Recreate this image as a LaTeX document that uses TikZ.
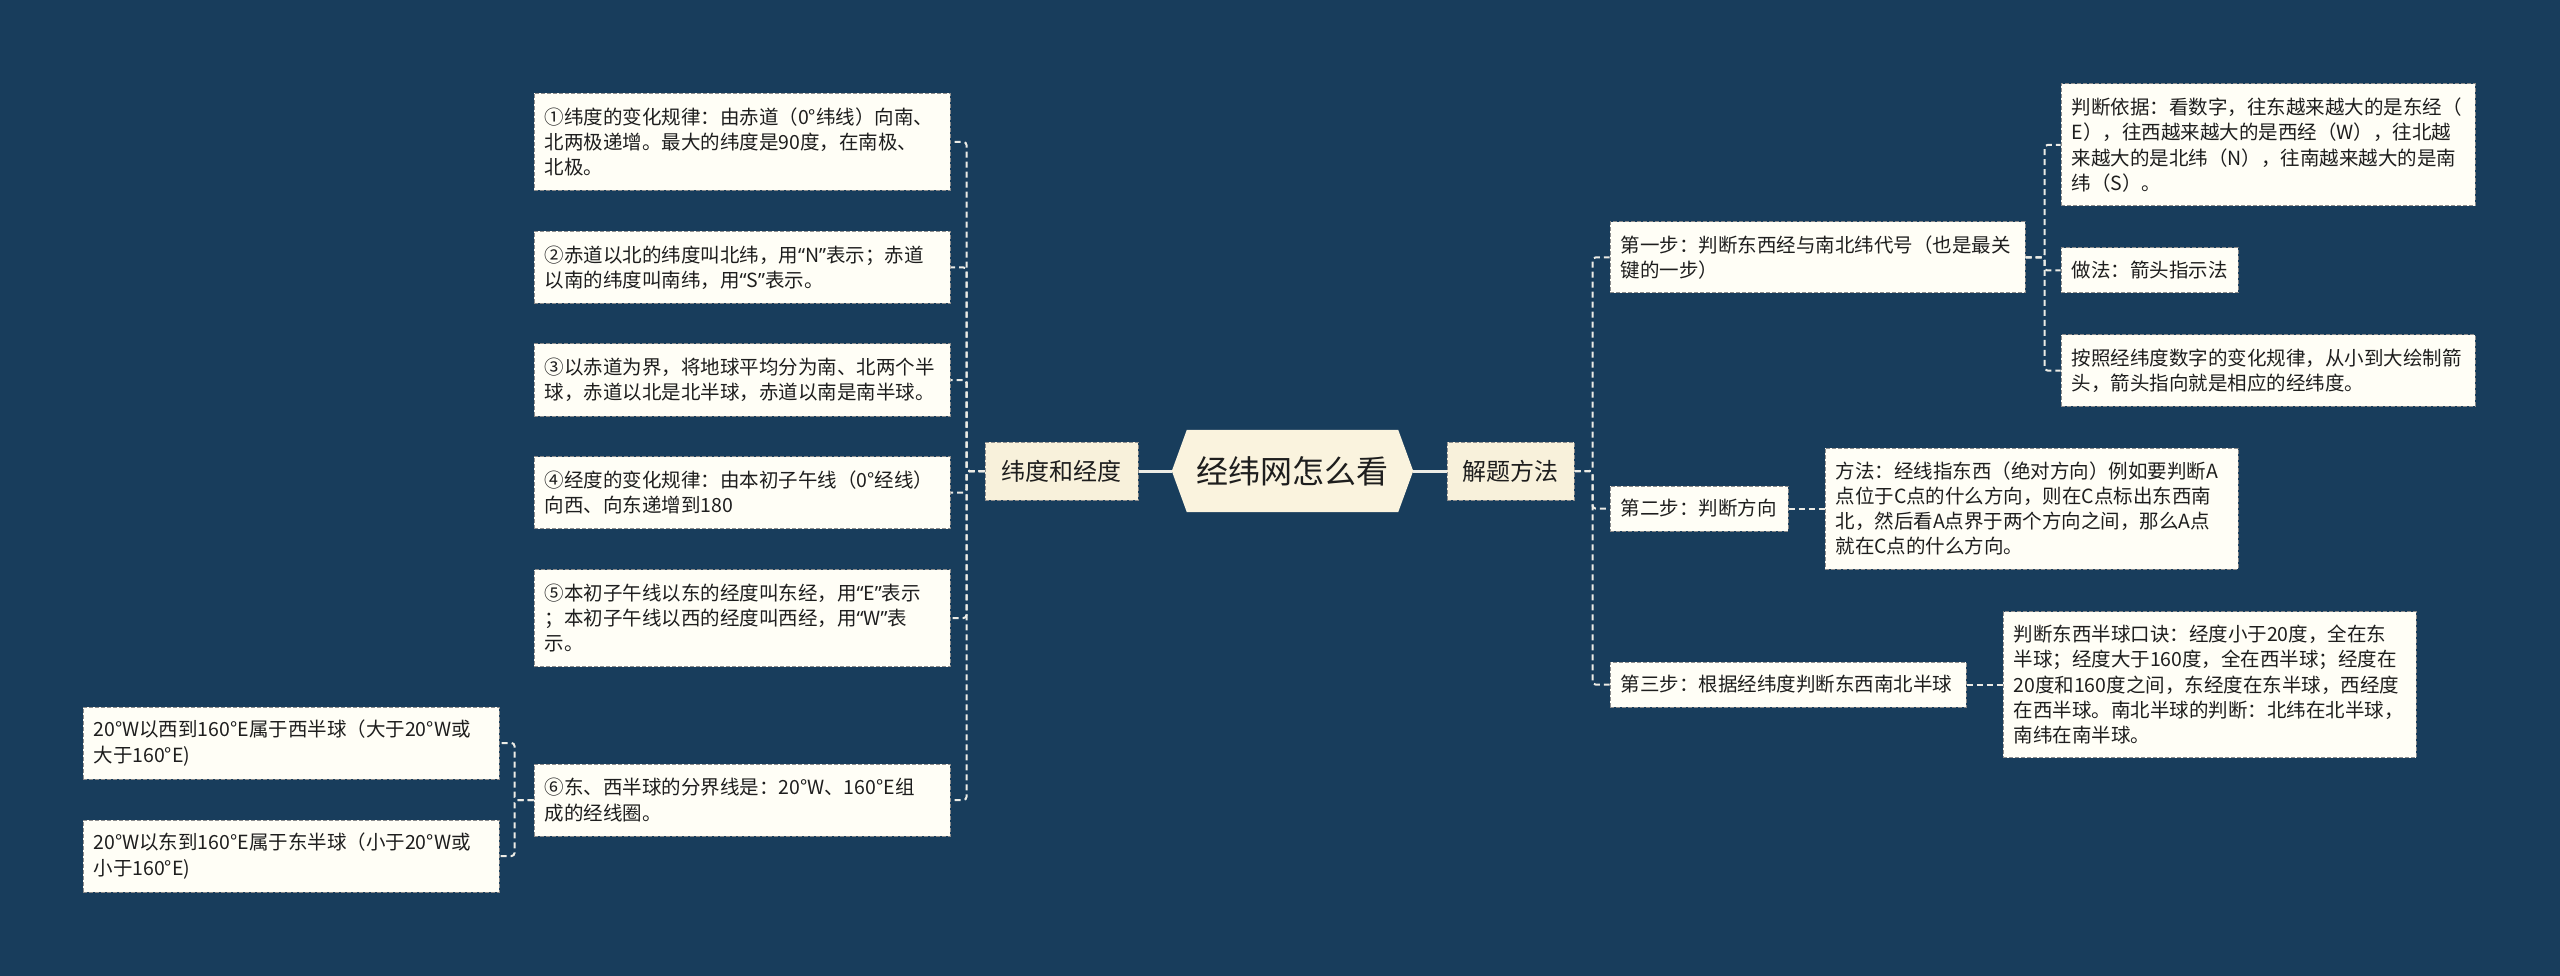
\documentclass[tikz,border=0pt]{standalone}
\usepackage{fontspec}
\setmainfont{Noto Sans CJK SC}
\newfontfamily\latinfont{Noto Sans}
\newcommand{\oq}{{\latinfont “}}
\newcommand{\cq}{{\latinfont ”}}
\usetikzlibrary{backgrounds}
\definecolor{bgblue}{HTML}{183D5C}
\definecolor{rootfill}{HTML}{FAF3DE}
\definecolor{midfill}{HTML}{F8F1DB}
\definecolor{leaffill}{HTML}{FFFEF6}
\definecolor{boxline}{HTML}{8C8C8C}
\definecolor{linkcol}{HTML}{ECECE6}
\definecolor{txt}{HTML}{1E1E1E}
\newcommand{\leaffont}{\fontsize{19.5}{25.2}\selectfont}
\newcommand{\midfont}{\fontsize{24}{28}\selectfont}
\newcommand{\rootfont}{\fontsize{32}{36}\selectfont}
\tikzset{
  leaf/.style={rectangle, fill=leaffill, draw=boxline, line width=1pt,
    dash pattern=on 4pt off 2pt, inner xsep=10.5pt, inner ysep=0pt,
    align=left, font=\leaffont, text=txt, anchor=center},
  midbox/.style={rectangle, fill=midfill, draw=boxline, line width=1pt,
    dash pattern=on 4pt off 2pt, inner sep=0pt, minimum height=58pt,
    font=\midfont, text=txt, anchor=center},
  rootbox/.style={rectangle, inner sep=0pt, minimum width=241pt,
    minimum height=82pt, font=\rootfont, text=txt, anchor=center},
  link/.style={draw=linkcol, line width=2pt, dash pattern=on 6pt off 4pt,
    rounded corners=3pt},
  rootlink/.style={draw=linkcol, line width=3pt}
}
\begin{document}
\begin{tikzpicture}[x=1pt,y=-1pt]
\useasboundingbox (0,0) rectangle (2560,976);
\begin{pgfonlayer}{background}
\fill[bgblue] (0,0) rectangle (2560,976);
\end{pgfonlayer}

% root
\node[rootbox] (root) at (1292.5,471) {经纬网怎么看};
\begin{pgfonlayer}{background}
\fill[rootfill] (root.west) -- ([xshift=15pt]root.north west) -- ([xshift=-15pt]root.north east)
  -- (root.east) -- ([xshift=-15pt]root.south east) -- ([xshift=15pt]root.south west) -- cycle;
\end{pgfonlayer}

% level 1
\node[midbox, minimum width=153pt] (lat) at (1061.5,471) {纬度和经度};
\node[midbox, minimum width=127pt] (meth) at (1510.5,471) {解题方法};

% left leaves
\node[leaf, text width=395pt, minimum height=97pt] (l1) at (742,142)
  {①纬度的变化规律：由赤道（0°纬线）向南、\\北两极递增。最大的纬度是90度，在南极、\\北极。};
\node[leaf, text width=395pt, minimum height=72pt] (l2) at (742,267.5)
  {②赤道以北的纬度叫北纬，用\oq N\cq 表示；赤道\\以南的纬度叫南纬，用\oq S\cq 表示。};
\node[leaf, text width=395pt, minimum height=72pt] (l3) at (742,380)
  {③以赤道为界，将地球平均分为南、北两个半\\球，赤道以北是北半球，赤道以南是南半球。};
\node[leaf, text width=395pt, minimum height=72pt] (l4) at (742,492.5)
  {④经度的变化规律：由本初子午线（0°经线）\\向西、向东递增到180};
\node[leaf, text width=395pt, minimum height=97pt] (l5) at (742,618)
  {⑤本初子午线以东的经度叫东经，用\oq E\cq 表示\\；本初子午线以西的经度叫西经，用\oq W\cq 表\\示。};
\node[leaf, text width=395pt, minimum height=72pt] (l6) at (742,800)
  {⑥东、西半球的分界线是：20°W、160°E组\\成的经线圈。};
\node[leaf, text width=395pt, minimum height=72pt] (w1) at (291,743)
  {20°W以西到160°E属于西半球（大于20°W或\\大于160°E)};
\node[leaf, text width=395pt, minimum height=72pt] (w2) at (291,856)
  {20°W以东到160°E属于东半球（小于20°W或\\小于160°E)};

% right side
\node[leaf, text width=394pt, minimum height=71pt] (s1) at (1817.5,257.5)
  {第一步：判断东西经与南北纬代号（也是最关\\键的一步）};
\node[leaf, text width=393pt, minimum height=122pt] (r1) at (2268,145)
  {判断依据：看数字，往东越来越大的是东经（\\E），往西越来越大的是西经（W），往北越\\来越大的是北纬（N），往南越来越大的是南\\纬（S）。};
\node[leaf, text width=156pt, minimum height=45pt] (r2) at (2149.5,270.5)
  {做法：箭头指示法};
\node[leaf, text width=393pt, minimum height=71pt] (r3) at (2268,370.5)
  {按照经纬度数字的变化规律，从小到大绘制箭\\头，箭头指向就是相应的经纬度。};
\node[leaf, text width=157pt, minimum height=45pt] (s2) at (1699,508.5)
  {第二步：判断方向};
\node[leaf, text width=392pt, minimum height=121pt] (m1) at (2031.5,508.5)
  {方法：经线指东西（绝对方向）例如要判断A\\点位于C点的什么方向，则在C点标出东西南\\北，然后看A点界于两个方向之间，那么A点\\就在C点的什么方向。};
\node[leaf, text width=335pt, minimum height=45pt] (s3) at (1788,684.5)
  {第三步：根据经纬度判断东西南北半球};
\node[leaf, text width=392pt, minimum height=146pt] (k1) at (2209.5,684.5)
  {判断东西半球口诀：经度小于20度，全在东\\半球；经度大于160度，全在西半球；经度在\\20度和160度之间，东经度在东半球，西经度\\在西半球。南北半球的判断：北纬在北半球，\\南纬在南半球。};

% connectors
\draw[rootlink] (root.west) -- (lat.east);
\draw[rootlink] (root.east) -- (meth.west);
\foreach \n in {l1,l2,l3,l4,l5,l6}
  \draw[link] (lat.west) -- ++(-18,0) |- (\n.east);
\foreach \n in {w1,w2}
  \draw[link] (l6.west) -- ++(-19,0) |- (\n.east);
\foreach \n in {s1,s2,s3}
  \draw[link] (meth.east) -- ++(18,0) |- (\n.west);
\foreach \n in {r1,r2,r3}
  \draw[link] (s1.east) -- ++(19,0) |- (\n.west);
\draw[link] (s2.east) -- (m1.west);
\draw[link] (s3.east) -- (k1.west);
\end{tikzpicture}
\end{document}
